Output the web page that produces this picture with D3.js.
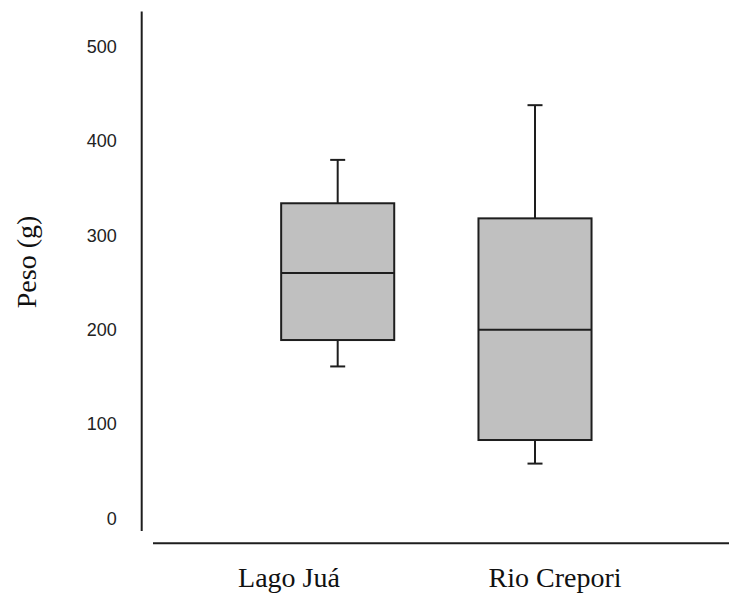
<!DOCTYPE html>
<html>
<meta charset="utf-8" />
<script src="https://d3js.org/d3.v7.min.js"></script>

<body>

    <style>
        body,
        html {
            margin: 0;
            padding: 0;
            background: #fff;
            overflow: hidden;
        }

        .tick-label {
            font: 18px "Liberation Sans", Arial, sans-serif;
            fill: #222;
        }

        .cat-label,
        .axis-title {
            font: 28px "Liberation Serif", "Times New Roman", serif;
            fill: #111;
        }
    </style>

    <svg id="chart"></svg>

    <script>
        // boxplot data: peso (g) por local
        var categories = ["Lago Juá", "Rio Crepori"];
        var whiskerLow = [161, 58];
        var q1 = [189, 83];
        var median = [260, 200];
        var q3 = [334, 318];
        var whiskerHigh = [380, 438];
        var yTicks = [0, 100, 200, 300, 400, 500];

        var width = 729;
        var height = 594;

        var svg = d3.select("#chart")
            .attr("width", width)
            .attr("height", height);

        var data = categories.map(function (c, i) {
            return { name: c, lo: whiskerLow[i], q1: q1[i], med: median[i], q3: q3[i], hi: whiskerHigh[i] };
        });

        var y = d3.scaleLinear()
            .domain([0, 500])
            .range([518.3, 46.7]);

        var x = d3.scaleBand()
            .domain(categories)
            .range([241.7, 631])
            .paddingInner(0.427)
            .paddingOuter(0.2);

        // category labels sit a bit off the box centres in the original
        var xLabel = d3.scalePoint()
            .domain(categories)
            .range([289, 555]);

        var stroke = "#1e1e1e";

        // y axis: plain line + labels, no tick marks
        var yAxis = svg.append("g")
            .attr("transform", "translate(141.7,0)")
            .call(d3.axisLeft(y).tickValues(yTicks).tickSize(0).tickPadding(25));
        yAxis.select(".domain").remove();
        yAxis.selectAll("text").attr("class", "tick-label").attr("fill", null);

        svg.append("line")
            .attr("x1", 141.7).attr("x2", 141.7)
            .attr("y1", 11.5).attr("y2", 531)
            .attr("stroke", stroke)
            .attr("stroke-width", 2);

        // x axis line
        svg.append("line")
            .attr("x1", 153).attr("x2", width)
            .attr("y1", 543.3).attr("y2", 543.3)
            .attr("stroke", stroke)
            .attr("stroke-width", 2);

        svg.selectAll(".cat-label")
            .data(categories)
            .enter().append("text")
            .attr("class", "cat-label")
            .attr("x", function (d) { return xLabel(d); })
            .attr("y", 587)
            .attr("text-anchor", "middle")
            .text(function (d) { return d; });

        svg.append("text")
            .attr("class", "axis-title")
            .attr("transform", "translate(36,262) rotate(-90)")
            .attr("text-anchor", "middle")
            .text("Peso (g)");

        var capW = 15;
        var boxes = svg.selectAll(".box")
            .data(data)
            .enter().append("g")
            .attr("class", "box");

        // whiskers
        boxes.append("line")
            .attr("x1", function (d) { return x(d.name) + x.bandwidth() / 2; })
            .attr("x2", function (d) { return x(d.name) + x.bandwidth() / 2; })
            .attr("y1", function (d) { return y(d.hi); })
            .attr("y2", function (d) { return y(d.q3); })
            .attr("stroke", stroke).attr("stroke-width", 2);
        boxes.append("line")
            .attr("x1", function (d) { return x(d.name) + x.bandwidth() / 2; })
            .attr("x2", function (d) { return x(d.name) + x.bandwidth() / 2; })
            .attr("y1", function (d) { return y(d.q1); })
            .attr("y2", function (d) { return y(d.lo); })
            .attr("stroke", stroke).attr("stroke-width", 2);

        // caps
        ["hi", "lo"].forEach(function (k) {
            boxes.append("line")
                .attr("x1", function (d) { return x(d.name) + x.bandwidth() / 2 - capW / 2; })
                .attr("x2", function (d) { return x(d.name) + x.bandwidth() / 2 + capW / 2; })
                .attr("y1", function (d) { return y(d[k]); })
                .attr("y2", function (d) { return y(d[k]); })
                .attr("stroke", stroke).attr("stroke-width", 2);
        });

        boxes.append("rect")
            .attr("x", function (d) { return x(d.name); })
            .attr("y", function (d) { return y(d.q3); })
            .attr("width", x.bandwidth())
            .attr("height", function (d) { return y(d.q1) - y(d.q3); })
            .attr("fill", "#c0c0c0")
            .attr("stroke", stroke)
            .attr("stroke-width", 2);

        boxes.append("line")
            .attr("x1", function (d) { return x(d.name); })
            .attr("x2", function (d) { return x(d.name) + x.bandwidth(); })
            .attr("y1", function (d) { return y(d.med); })
            .attr("y2", function (d) { return y(d.med); })
            .attr("stroke", stroke).attr("stroke-width", 2);
    </script>

</body>

</html>
